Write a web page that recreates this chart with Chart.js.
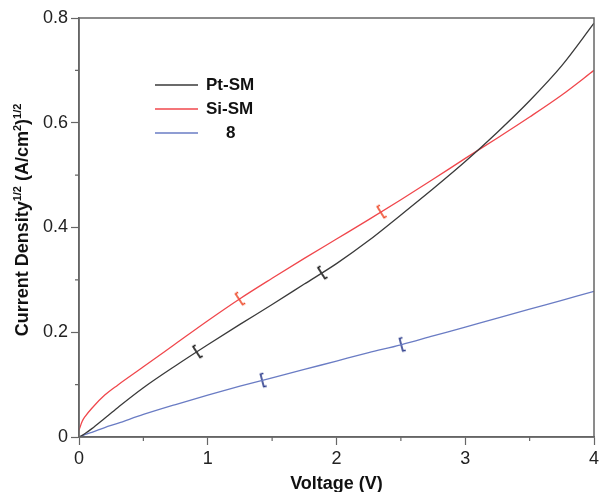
<!DOCTYPE html>
<html>
<head>
<meta charset="utf-8">
<script src="https://cdn.jsdelivr.net/npm/chart.js@4.4.0/dist/chart.umd.min.js"></script>
<style>
  body { margin: 0; background: #fff; }
</style>
</head>
<body>
<canvas id="jvChart" width="603" height="492"></canvas>
<script>
// data
const voltage = [0, 0.025, 0.05, 0.1, 0.2, 0.3, 0.5, 0.75, 1, 1.25, 1.5, 1.75, 2, 2.25, 2.5, 2.75, 3, 3.25, 3.5, 3.75, 4];
const ptSM = [0, 0.003, 0.007, 0.016, 0.036, 0.056, 0.094, 0.136, 0.176, 0.215, 0.253, 0.292, 0.331, 0.375, 0.424, 0.474, 0.526, 0.582, 0.642, 0.709, 0.79];
const siSM = [0.013, 0.03, 0.04, 0.055, 0.08, 0.099, 0.134, 0.178, 0.222, 0.264, 0.303, 0.341, 0.378, 0.415, 0.453, 0.492, 0.532, 0.571, 0.611, 0.653, 0.70];
const s8 = [0, 0.002, 0.005, 0.009, 0.018, 0.026, 0.043, 0.062, 0.08, 0.097, 0.113, 0.129, 0.145, 0.161, 0.176, 0.193, 0.21, 0.227, 0.244, 0.261, 0.278];

// voltages of the bracket marks on each curve
const ptMarks = [0.92, 1.89];
const siMarks = [1.25, 2.35];
const s8Marks = [1.43, 2.51];

const minorX = [0.5, 1.5, 2.5, 3.5];
const minorY = [0.1, 0.3, 0.5, 0.7];

function pts(ys) {
  return voltage.map((v, i) => ({ x: v, y: ys[i] }));
}

function interp(ys, v) {
  for (let i = 1; i < voltage.length; i++) {
    if (v <= voltage[i]) {
      const t = (v - voltage[i - 1]) / (voltage[i] - voltage[i - 1]);
      return ys[i - 1] + t * (ys[i] - ys[i - 1]);
    }
  }
  return ys[ys.length - 1];
}

function bracket(color) {
  const c = document.createElement("canvas");
  c.width = 8;
  c.height = 16;
  const g = c.getContext("2d");
  g.strokeStyle = color;
  g.lineWidth = 1.6;
  g.beginPath();
  g.moveTo(6, 1.5);
  g.lineTo(3, 1.5);
  g.lineTo(3, 14.5);
  g.lineTo(6, 14.5);
  g.stroke();
  return c;
}

function markSet(ys, marks, color) {
  return {
    data: marks.map(v => ({ x: v, y: interp(ys, v) })),
    showLine: false,
    pointStyle: bracket(color),
    pointRadius: 8,
    rotation: (ctx) => {
      const ch = ctx.chart;
      const xs = ch.scales.x, yS = ch.scales.y;
      if (!xs || !yS || ctx.raw === undefined) return 0;
      const v = ctx.raw.x;
      const dx = xs.getPixelForValue(v + 0.1) - xs.getPixelForValue(v - 0.1);
      const dy = yS.getPixelForValue(interp(ys, v + 0.1)) - yS.getPixelForValue(interp(ys, v - 0.1));
      return Math.atan2(dy, dx) * 180 / Math.PI;
    },
  };
}

const framePlugin = {
  id: "frame",
  afterDraw(chart) {
    const { ctx, chartArea: a, scales } = chart;
    ctx.save();
    ctx.strokeStyle = "#666";
    ctx.lineWidth = 1.5;
    ctx.strokeRect(a.left, a.top, a.right - a.left, a.bottom - a.top);
    ctx.lineWidth = 1.2;
    ctx.beginPath();
    minorX.forEach(v => {
      const px = scales.x.getPixelForValue(v);
      ctx.moveTo(px, a.bottom);
      ctx.lineTo(px, a.bottom + 4);
    });
    minorY.forEach(v => {
      const py = scales.y.getPixelForValue(v);
      ctx.moveTo(a.left, py);
      ctx.lineTo(a.left - 4, py);
    });
    ctx.stroke();

    // legend
    const entries = chart.data.datasets.filter(d => d.label);
    ctx.font = "bold 17px 'Liberation Sans', Arial, sans-serif";
    ctx.textBaseline = "middle";
    ctx.fillStyle = "#111";
    entries.forEach((d, i) => {
      const y = 85 + i * 24;
      ctx.strokeStyle = d.borderColor;
      ctx.lineWidth = 1.3;
      ctx.beginPath();
      ctx.moveTo(155, y);
      ctx.lineTo(198, y);
      ctx.stroke();
      ctx.fillText(d.label, d.label.length < 3 ? 226 : 206, y);
    });

    // axis titles
    ctx.textAlign = "center";
    ctx.textBaseline = "alphabetic";
    ctx.font = "bold 18px 'Liberation Sans', Arial, sans-serif";
    ctx.fillText("Voltage (V)", (a.left + a.right) / 2, 489);

    const parts = [
      ["Current Density", 18, 0],
      ["1/2", 11, -7],
      [" (A/cm", 18, 0],
      ["2", 11, -7],
      [")", 18, 0],
      ["1/2", 11, -7],
    ];
    let total = 0;
    parts.forEach(p => {
      ctx.font = "bold " + p[1] + "px 'Liberation Sans', Arial, sans-serif";
      total += ctx.measureText(p[0]).width;
    });
    ctx.translate(28, 220);
    ctx.rotate(-Math.PI / 2);
    ctx.textAlign = "left";
    let x = -total / 2;
    parts.forEach(p => {
      ctx.font = "bold " + p[1] + "px 'Liberation Sans', Arial, sans-serif";
      ctx.fillText(p[0], x, p[2]);
      x += ctx.measureText(p[0]).width;
    });
    ctx.restore();
  },
};

new Chart(document.getElementById("jvChart"), {
  type: "scatter",
  data: {
    datasets: [
      { label: "Pt-SM", data: pts(ptSM), borderColor: "#3a3a3a", showLine: true, pointRadius: 0, borderWidth: 1.3, cubicInterpolationMode: "monotone" },
      { label: "Si-SM", data: pts(siSM), borderColor: "#f0474c", showLine: true, pointRadius: 0, borderWidth: 1.3, cubicInterpolationMode: "monotone" },
      { label: "8", data: pts(s8), borderColor: "#6a7cc4", showLine: true, pointRadius: 0, borderWidth: 1.3, cubicInterpolationMode: "monotone" },
      markSet(ptSM, ptMarks, "#111"),
      markSet(siSM, siMarks, "#ee4a2a"),
      markSet(s8, s8Marks, "#2a3a8a"),
    ],
  },
  options: {
    responsive: false,
    animation: false,
    devicePixelRatio: 1,
    layout: { padding: { top: 18, right: 7, left: 0, bottom: 0 } },
    plugins: {
      legend: { display: false },
      tooltip: { enabled: false },
    },
    scales: {
      x: {
        type: "linear",
        min: 0,
        max: 4,
        afterFit: (s) => { s.height = 55; },
        ticks: { stepSize: 1, color: "#222", padding: 3, font: { size: 18, family: "'Liberation Sans', Arial, sans-serif" } },
        grid: { drawOnChartArea: false, tickLength: 8, color: "#666", tickWidth: 1.2 },
        border: { color: "#666", width: 1.5 },
      },
      y: {
        min: 0,
        max: 0.8,
        afterFit: (s) => { s.width = 79; },
        ticks: { stepSize: 0.2, color: "#222", padding: 3, font: { size: 18, family: "'Liberation Sans', Arial, sans-serif" } },
        grid: { drawOnChartArea: false, tickLength: 8, color: "#666", tickWidth: 1.2 },
        border: { color: "#666", width: 1.5 },
      },
    },
  },
  plugins: [framePlugin],
});
</script>
</body>
</html>
